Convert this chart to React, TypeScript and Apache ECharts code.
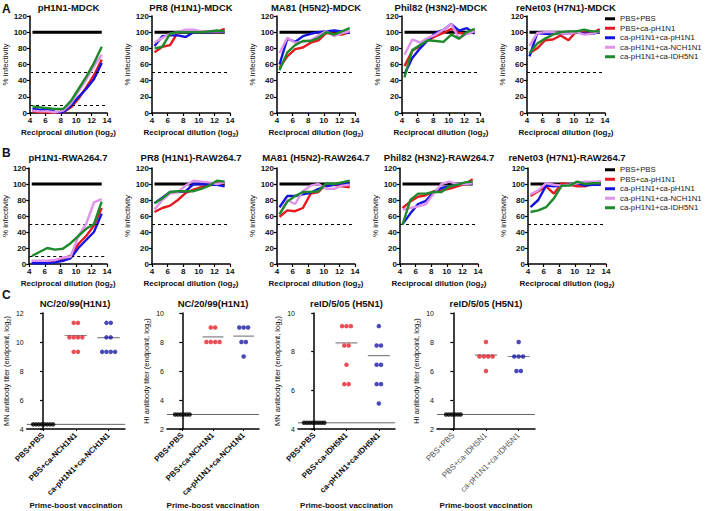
import React, { useEffect, useRef } from 'react';
import * as echarts from 'echarts';

const FONT = '"Liberation Sans", Arial, Helvetica, sans-serif';

// ---------------- Data: panels A and B (% infectivity) ----------------
const dilutionsLog2 = [4.32, 5.32, 6.32, 7.32, 8.32, 9.32, 10.32, 11.32, 12.32, 13.32];
const groupNames = ['PBS+PBS', 'PBS+ca-pH1N1', 'ca-pH1N1+ca-pH1N1', 'ca-pH1N1+ca-NCH1N1', 'ca-pH1N1+ca-IDH5N1'];
const groupColors = ['#000000', '#e5191f', '#1414e0', '#df93ea', '#1e8a2c'];
const pbsControl = [100, 100, 100, 100, 100, 100, 100, 100, 100, 100];

const titlesA = ['pH1N1-MDCK', 'PR8 (H1N1)-MDCK', 'MA81 (H5N2)-MDCK', 'Phil82 (H3N2)-MDCK', 'reNet03 (H7N1)-MDCK'];
const titlesB = ['pH1N1-RWA264.7', 'PR8 (H1N1)-RAW264.7', 'MA81 (H5N2)-RAW264.7', 'Phil82 (H3N2)-RAW264.7', 'reNet03 (H7N1)-RAW264.7'];
const cutoffsPH1N1 = [50, 10];
const cutoffsOther = [50];

// rows: PBS+ca-pH1N1, ca-pH1N1+ca-pH1N1, ca-pH1N1+ca-NCH1N1, ca-pH1N1+ca-IDH5N1
const mdckPH1N1 = [
  [2, 1, 1, 0, 1, 7, 18, 32, 47, 66],
  [5, 4, 5, 1, 1, 9, 20, 30, 42, 62],
  [3, 2, 2, 1, 3, 12, 27, 42, 58, 72],
  [8, 7, 6, 5, 5, 15, 30, 45, 62, 82],
];
const mdckPR8 = [
  [75, 82, 84, 100, 102, 101, 100, 101, 100, 104],
  [83, 95, 96, 96, 94, 100, 100, 100, 101, 100],
  [87, 93, 98, 100, 103, 103, 101, 101, 101, 101],
  [80, 82, 98, 100, 100, 100, 100, 101, 102, 101],
];
const mdckMA81 = [
  [56, 70, 79, 81, 87, 90, 99, 98, 97, 100],
  [60, 92, 88, 95, 98, 100, 101, 102, 101, 99],
  [74, 93, 87, 88, 90, 96, 101, 95, 99, 101],
  [53, 75, 84, 89, 89, 93, 100, 97, 101, 105],
];
const mdckPhil82 = [
  [58, 77, 83, 90, 95, 99, 104, 99, 98, 102],
  [48, 68, 80, 90, 99, 103, 110, 102, 105, 98],
  [72, 91, 87, 93, 97, 103, 110, 92, 98, 101],
  [44, 78, 84, 90, 89, 88, 97, 92, 100, 104],
];
const mdckReNet03 = [
  [74, 80, 90, 91, 96, 90, 101, 100, 98, 104],
  [70, 99, 98, 98, 99, 98, 101, 98, 98, 100],
  [83, 99, 100, 100, 99, 98, 100, 97, 98, 101],
  [74, 86, 92, 97, 100, 101, 101, 103, 101, 101],
];
const rawPH1N1 = [
  [3, 3, 3, 4, 7, 10, 25, 35, 48, 70],
  [1, 1, 1, 2, 4, 7, 20, 30, 40, 63],
  [4, 4, 4, 5, 8, 9, 35, 50, 77, 81],
  [10, 15, 20, 18, 19, 26, 35, 44, 50, 78],
];
const rawPR8 = [
  [65, 70, 73, 80, 89, 93, 96, 98, 101, 101],
  [76, 83, 90, 90, 91, 100, 100, 99, 99, 97],
  [68, 80, 88, 90, 98, 104, 103, 102, 100, 102],
  [76, 82, 90, 91, 91, 91, 94, 98, 104, 103],
];
const rawMA81 = [
  [59, 67, 66, 70, 88, 90, 100, 99, 97, 96],
  [71, 85, 85, 87, 89, 94, 97, 99, 101, 102],
  [62, 80, 75, 91, 98, 100, 94, 94, 98, 99],
  [62, 78, 85, 90, 90, 91, 101, 100, 102, 104],
];
const rawPhil82 = [
  [70, 78, 84, 86, 91, 92, 94, 97, 100, 106],
  [50, 63, 75, 79, 90, 95, 97, 100, 101, 101],
  [68, 70, 72, 75, 88, 100, 103, 100, 100, 101],
  [49, 80, 88, 88, 90, 90, 97, 99, 102, 103],
];
const rawReNet03 = [
  [85, 91, 97, 88, 101, 99, 97, 97, 102, 103],
  [71, 80, 98, 97, 98, 99, 101, 98, 99, 99],
  [87, 92, 101, 99, 98, 99, 101, 103, 103, 103],
  [65, 67, 71, 82, 98, 98, 103, 100, 101, 101],
];

// ---------------- Data: panel C (antibody titers) ----------------
const catsNCH1N1 = ['PBS+PBS', 'PBS+ca-NCH1N1', 'ca-pH1N1+ca-NCH1N1'];
const catsIDH5N1 = ['PBS+PBS', 'PBS+ca-IDH5N1', 'ca-pH1N1+ca-IDH5N1'];
const scatterTitles = ['NC/20/99(H1N1)', 'NC/20/99(H1N1)', 'reID/5/05 (H5N1)', 'reID/5/05 (H5N1)'];

const mnNcPbs = [4.32, 4.32, 4.32, 4.32, 4.32, 4.32, 4.32, 4.32];
const mnNcNch = [11.32, 11.32, 10.32, 10.32, 10.32, 10.32, 9.32, 9.32];
const mnNcPrimeNch = [11.32, 11.32, 10.32, 10.32, 9.32, 9.32, 9.32, 9.32];
const mnNcMeans = [4.32, 10.45, 10.3];

const hiNcPbs = [3, 3, 3, 3, 3, 3];
const hiNcNch = [9, 9, 8, 8, 8, 8];
const hiNcPrimeNch = [9, 9, 9, 8, 8, 7];
const hiNcMeans = [3, 8.35, 8.4];

const mnIdPbs = [4.32, 4.32, 4.32, 4.32, 4.32, 4.32, 4.32, 4.32];
const mnIdIdh = [9.32, 9.32, 9.32, 8.32, 8.32, 7.32, 6.32, 6.32];
const mnIdPrimeIdh = [9.32, 8.32, 8.32, 7.32, 7.32, 6.32, 6.32, 5.32];
const mnIdMeans = [4.32, 8.45, 7.8];

const hiIdPbs = [3, 3, 3, 3, 3, 3];
const hiIdIdh = [8, 7, 7, 7, 7, 6];
const hiIdPrimeIdh = [8, 7, 7, 7, 6, 6];
const hiIdMeans = [3, 7.1, 7.0];

const dotColors = ['#000000', '#e8202a', '#1c1ca6'];

function textEl(x: number, y: number, text: string, font: string, fill = '#111', align = 'center') {
  return {
    type: 'text', x, y, silent: true,
    style: { text, font, fill, align, textAlign: align, verticalAlign: 'middle', textVerticalAlign: 'middle' },
  };
}

function buildOption() {
  const grids: any[] = [];
  const xAxes: any[] = [];
  const yAxes: any[] = [];
  const series: any[] = [];
  const graphics: any[] = [];

  const axisLineStyle = { color: '#000', width: 1.5 };
  const tickStyle = { length: 3, lineStyle: { color: '#000', width: 1.2 } };
  const titleFont = `bold 9.5px ${FONT}`;

  function addLinePanel(left: number, top: number, width: number, height: number, titleY: number, title: string, curves: number[][], cutoffs: number[]) {
    const gi = grids.length;
    grids.push({ left, top, width, height });
    graphics.push(textEl(left + width / 2, titleY, title, titleFont));
    xAxes.push({
      gridIndex: gi, type: 'value', min: 4, max: 14, interval: 2,
      name: 'Reciprocal dilution (log{s|2})', nameLocation: 'middle', nameGap: 13,
      nameTextStyle: {
        fontFamily: FONT, fontSize: 8, fontWeight: 'bold', color: '#111', lineHeight: 12,
        rich: { s: { fontFamily: FONT, fontSize: 6, fontWeight: 'bold', color: '#111', verticalAlign: 'bottom', lineHeight: 12 } },
      },
      axisLine: { onZero: false, lineStyle: axisLineStyle },
      axisTick: tickStyle,
      axisLabel: { fontFamily: FONT, fontSize: 8, fontWeight: 'bold', color: '#111', margin: 3 },
      splitLine: { show: false },
    });
    yAxes.push({
      gridIndex: gi, type: 'value', min: 0, max: 120, interval: 20,
      name: '% infectivity', nameLocation: 'middle', nameGap: 20,
      nameTextStyle: { fontFamily: FONT, fontSize: 8, color: '#111' },
      axisLine: { show: true, lineStyle: axisLineStyle },
      axisTick: { show: true, ...tickStyle },
      axisLabel: { fontFamily: FONT, fontSize: 8, fontWeight: 'bold', color: '#111', margin: 3 },
      splitLine: { show: false },
    });
    const allCurves = [pbsControl, ...curves];
    allCurves.forEach((vals, k) => {
      const s: any = {
        type: 'line', name: groupNames[k], xAxisIndex: gi, yAxisIndex: gi,
        data: dilutionsLog2.map((x, i) => [x, vals[i]]),
        showSymbol: false, symbol: 'none',
        lineStyle: { color: groupColors[k], width: k === 0 ? 3 : 2.4 },
        itemStyle: { color: groupColors[k] },
        z: 2 + k,
      };
      if (k === 0) {
        s.markLine = {
          silent: true, symbol: ['none', 'none'], label: { show: false },
          lineStyle: { color: '#000', type: [3, 3], width: 1 },
          data: cutoffs.map((v) => ({ yAxis: v })),
        };
      }
      series.push(s);
    });
  }

  const gridW = 78;
  const leftsA = [30, 152, 277, 402, 527];
  const leftsB = [29, 152, 277, 400, 528];
  const curvesA = [mdckPH1N1, mdckPR8, mdckMA81, mdckPhil82, mdckReNet03];
  const curvesB = [rawPH1N1, rawPR8, rawMA81, rawPhil82, rawReNet03];
  leftsA.forEach((l, i) => addLinePanel(l, 16, i === 0 ? 77 : gridW, 97, 7, titlesA[i], curvesA[i], i === 0 ? cutoffsPH1N1 : cutoffsOther));
  leftsB.forEach((l, i) => addLinePanel(l, 168, gridW, 96, 157, titlesB[i], curvesB[i], i === 0 ? cutoffsPH1N1 : cutoffsOther));

  function swarm(values: number[], center: number, stepUnits: number): number[][] {
    const counts = new Map<number, number>();
    values.forEach((v) => counts.set(v, (counts.get(v) || 0) + 1));
    const seen = new Map<number, number>();
    return values.map((v) => {
      const n = counts.get(v)!;
      const k = seen.get(v) || 0;
      seen.set(v, k + 1);
      return [center + (k - (n - 1) / 2) * stepUnits, v];
    });
  }

  function addScatterPanel(left: number, width: number, title: string, yMin: number, yMax: number, yName: string,
    cats: string[], groups: number[][], means: number[], faded: boolean) {
    const gi = grids.length;
    const top = 313, height = 116;
    grids.push({ left, top, width, height });
    graphics.push(textEl(left + width / 2, 303, title, titleFont));
    xAxes.push({
      gridIndex: gi, type: 'value', min: -0.5, max: 2.5,
      name: 'Prime-boost vaccination', nameLocation: 'middle', nameGap: 72,
      nameTextStyle: { fontFamily: FONT, fontSize: 8, fontWeight: 'bold', color: '#111' },
      axisLine: { onZero: false, lineStyle: axisLineStyle },
      axisTick: { show: true, length: 2, lineStyle: { color: '#000', width: 1 }, customValues: [0, 1, 2] },
      axisLabel: {
        customValues: [0, 1, 2], rotate: 45, margin: 5,
        fontFamily: FONT, fontSize: 8, fontWeight: faded ? 'normal' : 'bold', color: faded ? '#555' : '#111',
        formatter: (v: number) => cats[Math.round(v)] ?? '',
      },
      splitLine: { show: false },
    });
    yAxes.push({
      gridIndex: gi, type: 'value', min: yMin, max: yMax, interval: 2,
      name: yName + ' antibody titer (endpoint, log{s|2})', nameLocation: 'middle', nameGap: 12,
      nameTextStyle: {
        fontFamily: FONT, fontSize: 7.5, color: '#111', lineHeight: 11,
        rich: { s: { fontFamily: FONT, fontSize: 5.5, color: '#111', verticalAlign: 'bottom', lineHeight: 11 } },
      },
      axisLine: { show: true, lineStyle: axisLineStyle },
      axisTick: { show: true, length: 3, lineStyle: { color: '#000', width: 1.2 } },
      axisLabel: { fontFamily: FONT, fontSize: 7, color: '#111', margin: 3 },
      splitLine: { show: false },
    });
    const pxPerUnit = width / 3;
    series.push({
      type: 'line', name: 'baseline', xAxisIndex: gi, yAxisIndex: gi, silent: true,
      data: [[-0.5, means[0]], [2.5, means[0]]], symbol: 'none',
      lineStyle: { color: '#666', width: 1 }, z: 1,
    });
    for (let g = 1; g < 3; g++) {
      series.push({
        type: 'line', name: 'mean', xAxisIndex: gi, yAxisIndex: gi, silent: true,
        data: [[g - 0.34, means[g]], [g + 0.34, means[g]]], symbol: 'none',
        lineStyle: { color: '#888', width: 1.2 }, z: 1,
      });
    }
    groups.forEach((vals, g) => {
      const step = g === 0 ? 2.9 : 4.4;
      series.push({
        type: 'scatter', name: cats[g], xAxisIndex: gi, yAxisIndex: gi,
        data: swarm(vals, g, step / pxPerUnit), symbol: 'circle', symbolSize: 4.5,
        itemStyle: { color: dotColors[g] }, z: 3,
      });
    });
  }

  addScatterPanel(25, 100, scatterTitles[0], 4, 12, 'MN', catsNCH1N1, [mnNcPbs, mnNcNch, mnNcPrimeNch], mnNcMeans, false);
  addScatterPanel(167, 92, scatterTitles[1], 2, 10, 'HI', catsNCH1N1, [hiNcPbs, hiNcNch, hiNcPrimeNch], hiNcMeans, false);
  addScatterPanel(298, 97, scatterTitles[2], 4, 10, 'MN', catsIDH5N1, [mnIdPbs, mnIdIdh, mnIdPrimeIdh], mnIdMeans, false);
  addScatterPanel(437, 98, scatterTitles[3], 2, 10, 'HI', catsIDH5N1, [hiIdPbs, hiIdIdh, hiIdPrimeIdh], hiIdMeans, true);

  const legendBase = {
    data: groupNames, orient: 'vertical', left: 605, icon: 'rect', itemWidth: 10, itemHeight: 3,
    itemGap: 0, selectedMode: false, padding: 0,
    textStyle: { fontFamily: FONT, fontSize: 7.8, color: '#222', lineHeight: 9.5 },
  };

  graphics.push(textEl(2, 9, 'A', `bold 12px ${FONT}`, '#111', 'left'));
  graphics.push(textEl(2, 153, 'B', `bold 12px ${FONT}`, '#111', 'left'));
  graphics.push(textEl(2, 295, 'C', `bold 12px ${FONT}`, '#111', 'left'));

  return {
    animation: false,
    backgroundColor: '#ffffff',
    grid: grids,
    xAxis: xAxes,
    yAxis: yAxes,
    series,
    legend: [
      { ...legendBase, top: 14 },
      { ...legendBase, top: 165 },
    ],
    graphic: graphics,
  };
}

export default function App() {
  const ref = useRef<HTMLDivElement>(null);
  useEffect(() => {
    if (!ref.current) return;
    const chart = echarts.init(ref.current, null, { renderer: 'svg' });
    chart.setOption(buildOption() as any);
    return () => chart.dispose();
  }, []);
  return <div ref={ref} style={{ position: 'absolute', left: 0, top: 0, width: 708, height: 511, background: '#fff' }} />;
}
